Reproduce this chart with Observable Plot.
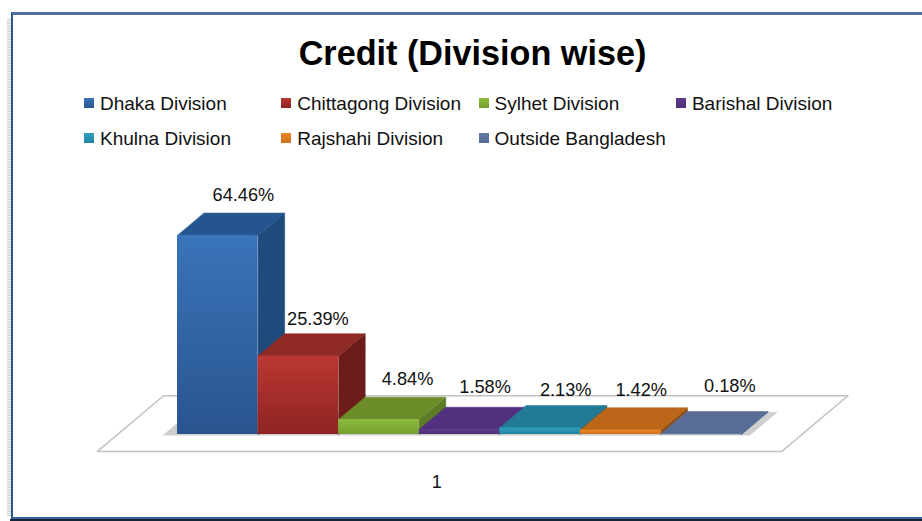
<!DOCTYPE html>
<html>
<head>
<meta charset="utf-8">
<script src="https://cdn.jsdelivr.net/npm/d3@7"></script>
<script src="https://cdn.jsdelivr.net/npm/@observablehq/plot@0.6"></script>
<style>
  html, body { margin: 0; padding: 0; background: #fff; overflow: hidden; }
  body { width: 922px; height: 521px; position: relative; font-family: "Liberation Sans", Arial, sans-serif; color: #111; }
  /* Card outline: blue top and left rules, dark lower edge, stippled left shadow */
  #shade { position: absolute; left: 7px; top: 18px; width: 4px; height: 498px;
           background: repeating-linear-gradient(0deg, #d4d4d4 0 1px, #f1f1f1 1px 2px); }
  #card { position: absolute; left: 11px; top: 12px; width: 930px; height: 507px; box-sizing: border-box;
          border-top: 3px solid #4a6fa0; border-left: 2px solid #2f5688; border-bottom: 2px solid #35609a; }
  #foot { position: absolute; left: 10px; top: 519px; width: 912px; height: 2px; background: #16243a; }
  #title { position: absolute; left: 0; top: 33px; width: 945px; text-align: center;
           font-size: 34.2px; font-weight: 700; line-height: 40px; color: #000; }
  #legend { position: absolute; left: 84px; top: 86px; display: grid; grid-template-columns: repeat(4, 197.3px);
            grid-auto-rows: 35px; font-size: 19px; line-height: 28px; }
  #legend div { display: flex; align-items: center; white-space: nowrap; }
  #legend i { display: block; width: 10px; height: 10px; margin-right: 6px; position: relative; top: -1px; }
  #chart { position: absolute; left: 0; top: 160px; }
  #chart svg { display: block; }
</style>
</head>
<body>
<div id="shade"></div>
<div id="card"></div>
<div id="foot"></div>
<div id="title"></div>
<div id="legend"></div>
<div id="chart"></div>
<script>
// Credit share per division, in percent
const chartTitle = "Credit (Division wise)";
const divisions = ["Dhaka Division", "Chittagong Division", "Sylhet Division", "Barishal Division",
                   "Khulna Division", "Rajshahi Division", "Outside Bangladesh"];
const shares = [64.46, 25.39, 4.84, 1.58, 2.13, 1.42, 0.18];
const categoryLabel = "1";

// Face colours of each box
const frontLight = ["#3a74ba", "#bb3733", "#8dbb3b", "#5c3a8c", "#2d9fbe", "#ee8526", "#627aa6"];
const frontDark  = ["#29558f", "#8e2422", "#75a02f", "#4f2f7a", "#2384a0", "#d1701c", "#566c97"];
const topFaces   = ["#24558f", "#8f2a24", "#6c8e2a", "#523080", "#227b96", "#bc661a", "#586d95"];
const sideFaces  = ["#1f4a7c", "#6c1d1a", "#5b7c24", "#432768", "#1c6a82", "#8f4f14", "#4d6083"];

// Pixel nudges that keep the value labels clear of each other
const labelNudges = [[-1, -18], [-7, -15], [2, -18], [-1, -20], [-1, -15], [-6, -18], [2, -25]];

// Oblique projection: one unit of depth moves a point right and up, in data units
const depthX = 0.33;
const depthY = 7.26;
const project = (x, v, d) => ({x: x + depthX * d, y: v + depthY * d});

// Floor plane bounds, in category and depth units
const floorLeft = -0.744, floorRight = 7.75, floorFront = -0.755, floorBack = 1.73;

const polygon = (points, options) => Plot.line(points, {x: "x", y: "y", curve: "linear-closed", ...options});

const floor = [
  project(floorLeft, 0, floorFront), project(floorRight, 0, floorFront),
  project(floorRight, 0, floorBack), project(floorLeft, 0, floorBack)
];
const groundShadow = [
  project(-0.17, 0, -0.05), project(7.12, 0, -0.05),
  project(7.12, 0, 1), project(-0.17, 0, 1)
];

// Gradients and the stipple used for the ground shadow
const defs = () => d3.create("svg:defs").html(
  shares.map((_, i) => `<linearGradient id="front${i}" x1="0" y1="0" x2="0" y2="1">
      <stop offset="0" stop-color="${frontLight[i]}"/><stop offset="1" stop-color="${frontDark[i]}"/>
    </linearGradient>`).join("") +
  `<pattern id="stipple" width="2" height="2" patternUnits="userSpaceOnUse">
      <rect width="2" height="2" fill="#f4f4f4"/><rect width="1" height="1" fill="#a0a0a0"/>
      <rect x="1" y="1" width="1" height="1" fill="#b4b4b4"/>
    </pattern>`
).node();

// Boxes are drawn left to right so each one covers its neighbour's side face
const boxMarks = shares.flatMap((v, i) => [
  polygon([project(i + 1, 0, 0), project(i + 1, 0, 1), project(i + 1, v, 1), project(i + 1, v, 0)],
          {fill: sideFaces[i], stroke: sideFaces[i], strokeWidth: 0.5}),
  polygon([project(i, v, 0), project(i + 1, v, 0), project(i + 1, v, 1), project(i, v, 1)],
          {fill: topFaces[i], stroke: topFaces[i], strokeWidth: 0.5}),
  Plot.rect([{x1: i, x2: i + 1, y1: 0, y2: v}], {x1: "x1", x2: "x2", y1: "y1", y2: "y2", fill: `url(#front${i})`})
]);

const labelMarks = shares.map((v, i) => Plot.text([project(i + 0.5, v, 1)], {
  x: "x", y: "y", text: () => `${v.toFixed(2)}%`,
  dx: labelNudges[i][0], dy: labelNudges[i][1],
  fontSize: 18.2, fill: "#111", fontFamily: "Liberation Sans, Arial, sans-serif"
}));

const top0 = 160;
const plot = Plot.plot({
  width: 922,
  height: 361,
  marginTop: 0, marginRight: 0, marginBottom: 0, marginLeft: 0,
  x: {type: "linear", domain: [0, 7], range: [177, 741], axis: null},
  y: {type: "linear", domain: [0, 64.46], range: [434 - top0, 235 - top0], axis: null},
  marks: [
    defs,
    polygon(floor, {fill: "#fff", stroke: "#c2c2c2", strokeWidth: 1.5}),
    polygon(groundShadow, {fill: "url(#stipple)", stroke: "none"}),
    ...boxMarks,
    ...labelMarks,
    // Category label sits under the middle of the floor's front edge
    Plot.text([project((floorLeft + floorRight) / 2, -10, floorFront)], {
      x: "x", y: "y", text: () => categoryLabel, dx: -3,
      fontSize: 18, fill: "#111", fontFamily: "Liberation Sans, Arial, sans-serif"
    })
  ]
});
document.getElementById("chart").append(plot);

document.getElementById("title").textContent = chartTitle;

// Legend swatches carry the same gradient as the front faces
d3.select("#legend").selectAll("div").data(divisions).join("div")
  .html((d, i) => `<i style="background:linear-gradient(${frontLight[i]},${frontDark[i]})"></i><span>${d}</span>`);
</script>
</body>
</html>
